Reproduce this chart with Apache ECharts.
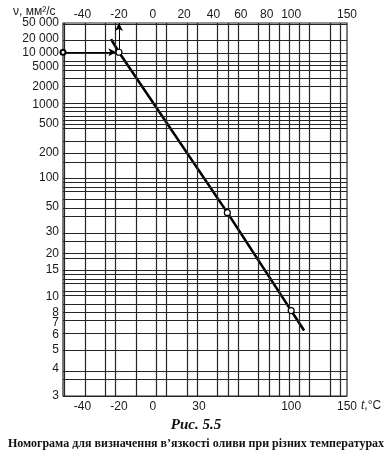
<!DOCTYPE html>
<html>
<head>
<meta charset="utf-8">
<script src="https://cdn.jsdelivr.net/npm/echarts@6/dist/echarts.min.js"></script>
<style>html,body{margin:0;padding:0;background:#fff;}#c{width:392px;height:457px;}</style>
</head>
<body>
<div id="c"></div>
<script>
// ---- data ----
const tempTicksTop = [-40, -20, 0, 20, 40, 60, 80, 100, 150];
const tempTicksBottom = [-40, -20, 0, 30, 100, 150];
const viscTicks = [50000, 20000, 10000, 5000, 2000, 1000, 500, 200, 100, 50, 30, 20, 15, 10, 8, 7, 6, 5, 4, 3];
const viscTickLabels = ['50 000', '20 000', '10 000', '5000', '2000', '1000', '500', '200', '100', '50', '30', '20', '15', '10', '8', '7', '6', '5', '4', '3'];
const tempGrid = [-50, -40, -30, -20, -10, 0, 10, 20, 30, 40, 50, 60, 70, 80, 90, 100, 110, 120, 130, 140, 150];
const viscGrid = [50000, 20000, 10000, 6000, 5000, 4000, 3000, 2000, 1000, 900, 800, 700, 600, 500, 400, 300, 200, 150,
  100, 90, 80, 70, 60, 50, 40, 30, 25, 20, 18, 15, 14, 13, 12, 11, 10, 9, 8, 7, 6, 5, 4, 3.5, 3];
const lineTemps = [-24.5, -20, 50, 100, 111];
const lineVisc = [20000, 10000, 44, 8.2, 6.3];
const pointTemps = [-20, 50, 100];
const pointVisc = [10000, 44, 8.2];
const arrowH = { fromT: -50, toT: -21.5, visc: 10000 };
const arrowV = { temp: -20, fromV: 10000, toV: 50000 };
const tempRange = [-50, 150];
const viscRange = [3, 50000];

// ---- scales (nomogram transforms) ----
const tx = t => Math.log10(t + 273.15);
const vy = v => Math.log10(Math.log10(v + 1));
const nearestIdx = (arr, f, val) => {
  let best = 0, d = Infinity;
  arr.forEach((a, i) => { const dd = Math.abs(f(a) - val); if (dd < d) { d = dd; best = i; } });
  return best;
};

const chart = echarts.init(document.getElementById('c'), null, { renderer: 'canvas' });
const gridColor = '#262626';
const labelFont = { fontFamily: 'Liberation Sans, Arial, sans-serif', fontSize: 12, color: '#1a1a1a' };

const gridLines = [];
tempGrid.forEach(t => gridLines.push({ xAxis: tx(t) }));
viscGrid.forEach(v => gridLines.push({ yAxis: vy(v) }));

chart.setOption({
  animation: false,
  backgroundColor: '#fff',
  title: [
    { text: 'Рис. 5.5', left: 'center', top: 418, padding: 0,
      textStyle: { fontFamily: 'Liberation Serif, serif', fontStyle: 'italic', fontWeight: 'bold', fontSize: 15, color: '#111' } },
    { text: 'Номограма для визначення в’язкості оливи при різних температурах', left: 'center', top: 438, padding: 0,
      textStyle: { fontFamily: 'Liberation Serif, serif', fontWeight: 'bold', fontSize: 12, color: '#111' } }
  ],
  grid: { left: 63, right: 45, top: 23, bottom: 61, show: true, borderColor: gridColor, borderWidth: 1.2, containLabel: false },
  xAxis: [
    { type: 'value', position: 'bottom', min: tx(tempRange[0]), max: tx(tempRange[1]),
      axisLine: { show: false }, axisTick: { show: false }, splitLine: { show: false },
      axisLabel: { ...labelFont, margin: 5, customValues: tempTicksBottom.map(tx),
        formatter: v => String(tempTicksBottom[nearestIdx(tempTicksBottom, tx, v)]) } },
    { type: 'value', position: 'top', min: tx(tempRange[0]), max: tx(tempRange[1]),
      axisLine: { show: false }, axisTick: { show: false }, splitLine: { show: false },
      axisLabel: { ...labelFont, margin: 2, customValues: tempTicksTop.map(tx),
        formatter: v => String(tempTicksTop[nearestIdx(tempTicksTop, tx, v)]) } }
  ],
  yAxis: [
    { type: 'value', min: vy(viscRange[0]), max: vy(viscRange[1]),
      axisLine: { show: false }, axisTick: { show: false }, splitLine: { show: false },
      axisLabel: { ...labelFont, margin: 4, customValues: viscTicks.map(vy),
        formatter: v => viscTickLabels[nearestIdx(viscTicks, vy, v)] } }
  ],
  graphic: [
    { type: 'text', left: 13, top: 6, style: { text: 'ν, мм²/с', font: '12px "Liberation Sans", Arial, sans-serif', fill: '#1a1a1a' } },
    { type: 'text', left: 361, top: 400, style: { text: '{i|t},°C', font: '12px "Liberation Sans", Arial, sans-serif', fill: '#1a1a1a',
        rich: { i: { fontStyle: 'italic', fontFamily: 'Liberation Sans, Arial, sans-serif', fontSize: 12, fill: '#1a1a1a' } } } }
  ],
  series: [
    { type: 'line', data: [], silent: true,
      markLine: { silent: true, symbol: 'none', label: { show: false }, animation: false,
        lineStyle: { color: gridColor, width: 1.2, type: 'solid' }, emphasis: { disabled: true },
        data: gridLines } },
    { type: 'line', silent: true, symbol: 'none',
      lineStyle: { color: '#000', width: 2.6 },
      data: lineTemps.map((t, i) => [tx(t), vy(lineVisc[i])]),
      markLine: { silent: true, label: { show: false }, animation: false, emphasis: { disabled: true },
        lineStyle: { color: '#000', width: 1, type: 'solid' },
        data: [
          [ { coord: [tx(arrowH.fromT), vy(arrowH.visc)], symbol: 'emptyCircle', symbolSize: 5 },
            { coord: [tx(arrowH.toT), vy(arrowH.visc)], symbol: 'arrow', symbolSize: [6, 8] } ],
          [ { coord: [tx(arrowV.temp), vy(arrowV.fromV)], symbol: 'none' },
            { coord: [tx(arrowV.temp), vy(arrowV.toV)], symbol: 'arrow', symbolSize: [6, 8] } ]
        ] } },
    { type: 'scatter', silent: true, symbol: 'circle', symbolSize: 6,
      itemStyle: { color: '#fff', borderColor: '#000', borderWidth: 1.2, opacity: 1 },
      data: pointTemps.map((t, i) => [tx(t), vy(pointVisc[i])]), z: 5 }
  ]
});
</script>
</body>
</html>
